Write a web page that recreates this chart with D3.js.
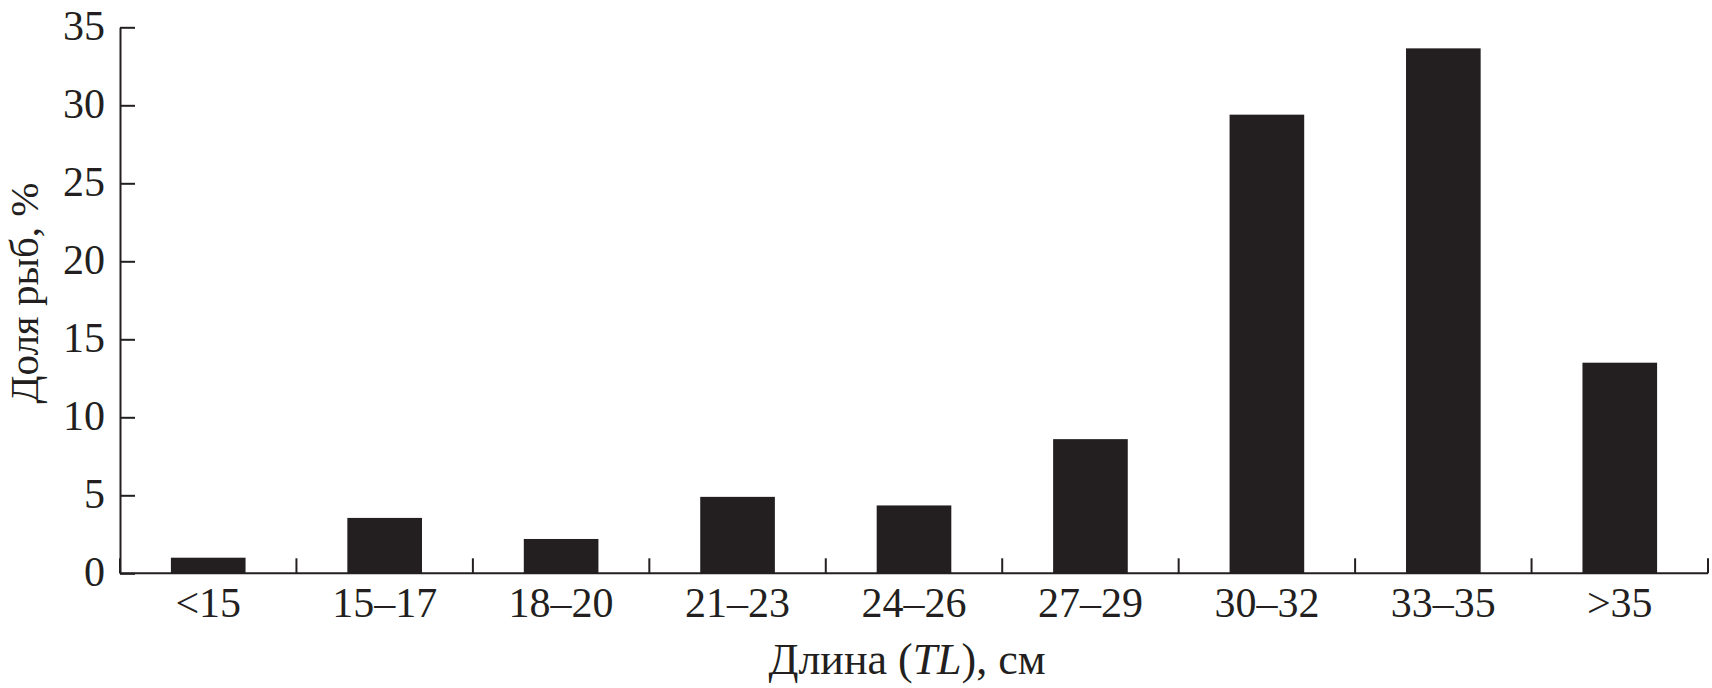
<!DOCTYPE html>
<html>
<head>
<meta charset="utf-8">
<script src="https://cdn.jsdelivr.net/npm/d3@7"></script>
<style>
  html, body { margin: 0; padding: 0; background: #fff; }
  svg { display: block; }
  text { font-family: "Liberation Serif", "Tinos", "Times New Roman", serif; fill: #231f20; }
</style>
</head>
<body>
<script>
// ---- data ----
const categories = ["<15", "15\u201317", "18\u201320", "21\u201323", "24\u201326", "27\u201329", "30\u201332", "33\u201335", ">35"];
const shares = [1.0, 3.55, 2.2, 4.9, 4.35, 8.6, 29.4, 33.65, 13.5];
const yTicks = [0, 5, 10, 15, 20, 25, 30, 35];
const xTitle = ["Длина (", "TL", "), см"];
const yTitle = "Доля рыб, %";

// ---- layout ----
const W = 1712, H = 688;
const plotLeft = 120, plotRight = 1708, plotTop = 27.3, plotBottom = 573.3;
const ink = "#231f20";
const serif = "'Liberation Serif', 'Tinos', 'Times New Roman', serif";

const svg = d3.select("body").append("svg").attr("width", W).attr("height", H);

const x = d3.scaleBand().domain(categories).range([plotLeft, plotRight])
  .paddingInner(0.577).paddingOuter(0.2885);
const y = d3.scaleLinear().domain([0, 35]).range([plotBottom, plotTop]);

// bars
svg.append("g").selectAll("rect").data(categories).join("rect")
  .attr("x", d => x(d))
  .attr("width", x.bandwidth())
  .attr("y", (d, i) => y(shares[i]))
  .attr("height", (d, i) => y(0) - y(shares[i]))
  .attr("fill", ink);

// y axis
const yAxis = svg.append("g").attr("transform", `translate(${plotLeft},0)`)
  .call(d3.axisLeft(y).tickValues(yTicks).tickSizeInner(-15).tickSizeOuter(0).tickPadding(15));
yAxis.select(".domain").attr("stroke", ink).attr("stroke-width", 2);
yAxis.selectAll(".tick line").attr("stroke", ink).attr("stroke-width", 2);
yAxis.selectAll(".tick text").attr("font-size", 42).attr("fill", ink)
  .attr("font-family", serif).attr("dy", "0.3em");

// x axis (labels at band centres)
const xAxis = svg.append("g").attr("transform", `translate(0,${plotBottom})`)
  .call(d3.axisBottom(x).tickSize(0).tickPadding(14));
xAxis.select(".domain").remove();
xAxis.selectAll(".tick text").attr("font-size", 42).attr("fill", ink)
  .attr("font-family", serif);

// x baseline
svg.append("line").attr("x1", x.range()[0]).attr("x2", x.range()[1])
  .attr("y1", y(0)).attr("y2", y(0)).attr("stroke", ink).attr("stroke-width", 2);

// x ticks at band boundaries, pointing up
const gap = (x.step() - x.bandwidth()) / 2;
const bounds = categories.map(c => x(c) - gap).concat([x(categories[categories.length - 1]) + x.bandwidth() + gap]);
svg.append("g").selectAll("line").data(bounds).join("line")
  .attr("x1", d => d).attr("x2", d => d)
  .attr("y1", y(0)).attr("y2", y(0) - 15)
  .attr("stroke", ink).attr("stroke-width", 2);

// x title
const xt = svg.append("text").attr("x", (plotLeft + plotRight) / 2 - 7).attr("y", 674)
  .attr("text-anchor", "middle").attr("font-size", 44);
xt.append("tspan").text(xTitle[0]);
xt.append("tspan").attr("font-style", "italic").text(xTitle[1]);
xt.append("tspan").text(xTitle[2]);

// y title
svg.append("text")
  .attr("transform", `translate(38,293) rotate(-90)`)
  .attr("text-anchor", "middle").attr("font-size", 41)
  .text(yTitle);
</script>
</body>
</html>
